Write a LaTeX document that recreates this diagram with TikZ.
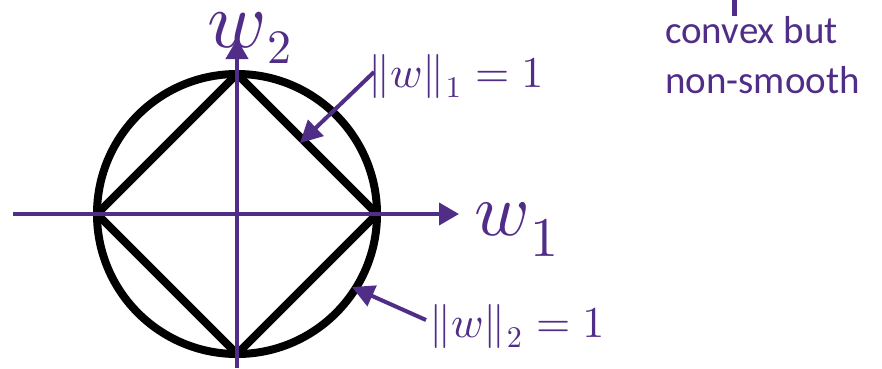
\documentclass[tikz,border=0pt]{standalone}
\usepackage{graphicx}
\usepackage{fontspec}
\newfontfamily\calib{Carlito}
\usetikzlibrary{arrows.meta}
\definecolor{purp}{RGB}{80,45,135}
\newcommand{\axlabel}[4]{\scalebox{#1}{$w$}\kern1pt\raisebox{-#3pt}{\scalebox{#2}{$#4$}}}
\newcommand{\normlabel}[1]{\scalebox{4.4}{$\|w\|$}\kern1pt\raisebox{-10pt}{\scalebox{3}{$#1$}}\kern2pt\scalebox{4.4}{${}=1$}}
\begin{document}
\begin{tikzpicture}[x=1pt,y=-1pt,
  axis/.style={draw=purp,line width=4pt,-{Triangle[length=20pt,width=22pt]}},
  pointer/.style={draw=purp,line width=4pt,-{Triangle[length=22pt,width=22pt]}},
  blackline/.style={draw=black,line width=8pt,line join=round},
  lab/.style={text=purp,anchor=base west,inner sep=0pt},
  note/.style={text=purp,font=\calib\fontsize{39}{39}\selectfont,anchor=base west,inner sep=0pt}]
\useasboundingbox (0,0) rectangle (882,368);
\coordinate (O) at (237,214);
\coordinate (L) at (97,214);
\coordinate (R) at (377,214);
\coordinate (T) at (237,74);
\coordinate (B) at (237,354);
\coordinate (xs) at (13,214);
\coordinate (xe) at (459,214);
\coordinate (ys) at (237,368);
\coordinate (ye) at (237,39);
% shapes
\draw[blackline] (O) circle[radius=140];
\draw[blackline] (T) -- (R) -- (B) -- (L) -- cycle;
% axes
\draw[axis] (xs) -- (xe);
\draw[axis] (ys) -- (ye);
% labels
\node[lab] (w2) at (207,47) {\axlabel{8}{4.8}{16}{2}};
\node[lab] (w1) at (474,235) {\axlabel{7.5}{5.6}{21}{1}};
\node[lab] (n1) at (368,87) {\normlabel{1}};
\node[lab] (n2) at (429,337) {\normlabel{2}};
\coordinate (t1) at (300,143);
\coordinate (t2) at (352,287);
\coordinate (s1) at (374,72);
\coordinate (s2) at (426,320);
\draw[pointer] (s1) -- (t1);
\draw[pointer] (s2) -- (t2);
% note
\node[note] (c1) at (665,43) {convex but};
\node[note] (c2) at (665,93) {non-smooth};
\coordinate (k1) at (734.5,0);
\coordinate (k2) at (734.5,16);
\draw[purp,line width=5pt] (k1) -- (k2);
\end{tikzpicture}
\end{document}
